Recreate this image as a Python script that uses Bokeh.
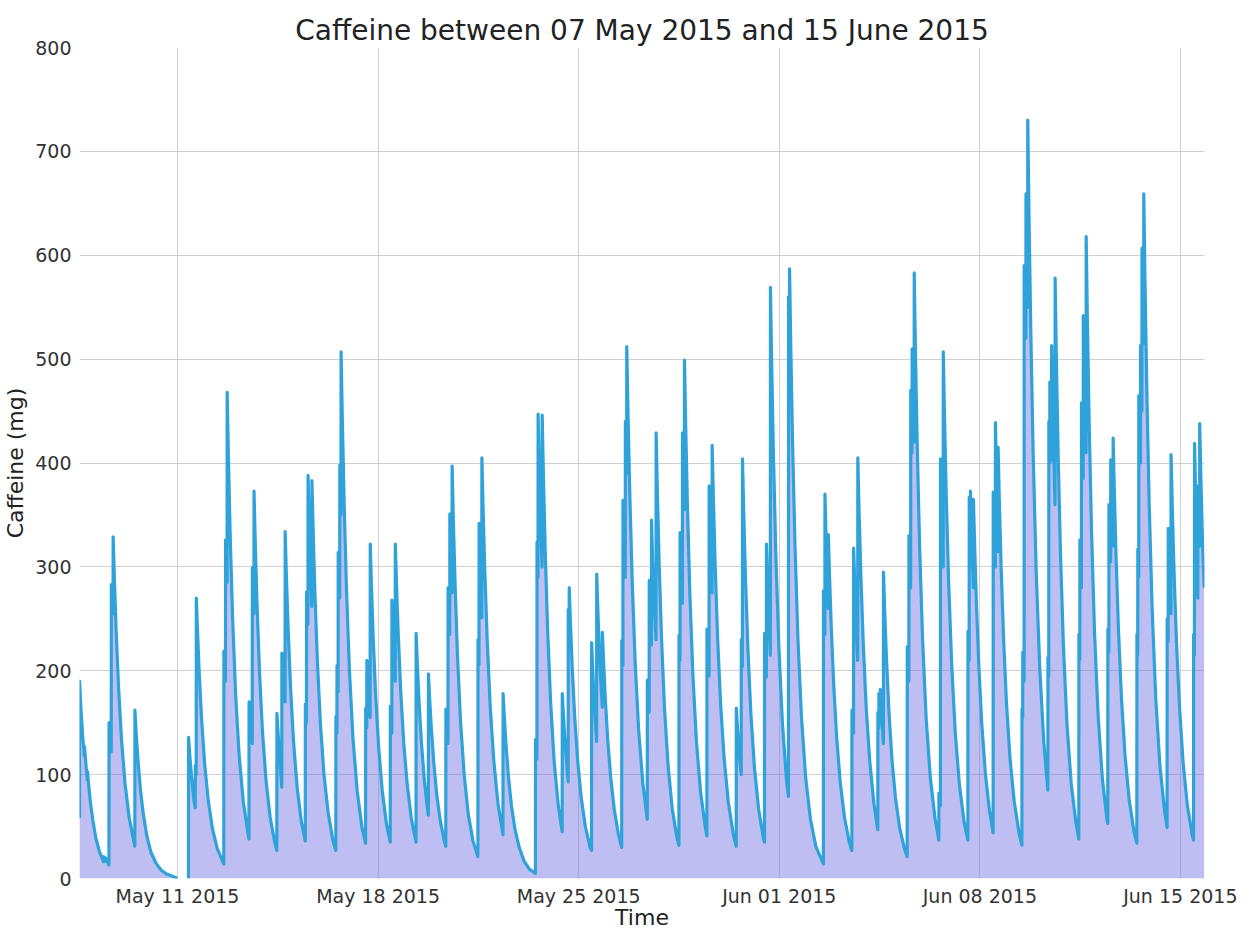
import numpy as np
import pandas as pd
from bokeh.plotting import figure
from bokeh.models import FixedTicker, DatetimeTickFormatter, Range1d, Title
from bokeh.embed import file_html
from bokeh.resources import INLINE

nan = float("nan")

# ---------------- data ----------------
# time stamps in 2015 ("MM-DD HH:MM") and the caffeine level (mg); NaN = no data
times = [
    "05-07 13:55", "05-07 14:00", "05-07 15:00", "05-07 16:30", "05-07 18:00", "05-07 18:05", "05-07 19:30", "05-07 20:30", "05-07 20:35", "05-07 21:35", "05-07 23:05", "05-08 01:05", "05-08 03:35", "05-08 06:35", "05-08 10:00", "05-08 10:05", "05-08 11:30", "05-08 11:35", "05-08 14:35",
    "05-08 14:40", "05-08 16:30", "05-08 16:35", "05-08 18:00", "05-08 18:05", "05-08 19:05", "05-08 20:35", "05-08 22:35", "05-09 01:05", "05-09 04:05", "05-09 07:35", "05-09 11:35", "05-09 12:15",
    "05-09 12:20", "05-09 13:20", "05-09 14:50", "05-09 16:50", "05-09 19:20", "05-09 22:20", "05-10 01:50", "05-10 05:50", "05-10 10:20", "05-10 15:20", "05-10 20:20", "05-11 00:00", "05-11 04:00",
    "05-11 09:10", "05-11 09:15", "05-11 10:15", "05-11 11:45", "05-11 13:45", "05-11 14:50", "05-11 14:55", "05-11 15:40", "05-11 15:45", "05-11 16:45", "05-11 18:15", "05-11 20:15", "05-11 22:45", "05-12 01:45", "05-12 05:15", "05-12 09:15", "05-12 14:45",
    "05-12 14:50", "05-12 16:10", "05-12 16:15", "05-12 17:30", "05-12 17:35", "05-12 18:35", "05-12 20:05", "05-12 22:05", "05-13 00:35", "05-13 03:35", "05-13 07:05", "05-13 11:05", "05-13 11:50",
    "05-13 11:55", "05-13 14:35", "05-13 14:40", "05-13 16:00", "05-13 16:05", "05-13 17:05", "05-13 18:35", "05-13 20:35", "05-13 23:05", "05-14 02:05", "05-14 05:35", "05-14 09:35", "05-14 11:10",
    "05-14 11:15", "05-14 12:45", "05-14 15:20", "05-14 15:25", "05-14 18:05", "05-14 18:10", "05-14 19:10", "05-14 20:40", "05-14 22:40", "05-15 01:10", "05-15 04:10", "05-15 07:40", "05-15 11:00",
    "05-15 11:05", "05-15 12:00", "05-15 12:05", "05-15 13:15", "05-15 13:20", "05-15 14:50", "05-15 16:30", "05-15 16:35", "05-15 17:35", "05-15 19:05", "05-15 21:05", "05-15 23:35", "05-16 02:35", "05-16 06:05", "05-16 10:05", "05-16 12:35",
    "05-16 12:40", "05-16 13:30", "05-16 13:35", "05-16 14:30", "05-16 14:35", "05-16 15:50", "05-16 15:55", "05-16 16:55", "05-16 17:00", "05-16 18:00", "05-16 19:30", "05-16 21:30", "05-17 00:00", "05-17 03:00", "05-17 06:30", "05-17 10:30", "05-17 13:30",
    "05-17 13:35", "05-17 14:30", "05-17 14:35", "05-17 16:00", "05-17 17:20", "05-17 17:25", "05-17 18:25", "05-17 19:55", "05-17 21:55", "05-18 00:25", "05-18 03:25", "05-18 06:55", "05-18 10:10",
    "05-18 10:15", "05-18 11:30", "05-18 11:35", "05-18 13:00", "05-18 14:20", "05-18 14:25", "05-18 15:25", "05-18 16:55", "05-18 18:55", "05-18 21:25", "05-19 00:25", "05-19 03:55", "05-19 07:45",
    "05-19 07:50", "05-19 08:50", "05-19 10:20", "05-19 12:20", "05-19 14:50", "05-19 17:50", "05-19 18:05",
    "05-19 18:10", "05-19 19:10", "05-19 20:40", "05-19 22:40", "05-20 01:10", "05-20 04:10", "05-20 07:40", "05-20 08:40",
    "05-20 08:45", "05-20 10:30", "05-20 10:35", "05-20 12:00", "05-20 12:05", "05-20 13:55", "05-20 14:00", "05-20 15:00", "05-20 16:30", "05-20 18:30", "05-20 21:00", "05-21 00:00", "05-21 03:30", "05-21 07:30", "05-21 11:35",
    "05-21 11:40", "05-21 12:30", "05-21 12:35", "05-21 13:40", "05-21 14:50", "05-21 14:55", "05-21 15:55", "05-21 17:25", "05-21 19:25", "05-21 21:55", "05-22 00:55", "05-22 04:25", "05-22 08:35",
    "05-22 08:40", "05-22 09:40", "05-22 11:10", "05-22 13:10", "05-22 15:40", "05-22 18:40", "05-22 22:10", "05-23 02:10", "05-23 06:40", "05-23 11:45",
    "05-23 11:50", "05-23 13:00", "05-23 13:05", "05-23 13:55", "05-23 14:00", "05-23 15:30", "05-23 17:20", "05-23 17:25", "05-23 18:25", "05-23 19:55", "05-23 21:55", "05-24 00:25", "05-24 03:25", "05-24 06:55", "05-24 10:10",
    "05-24 10:15", "05-24 11:15", "05-24 12:45", "05-24 15:10", "05-24 15:15", "05-24 16:00", "05-24 16:05", "05-24 17:05", "05-24 18:35", "05-24 20:35", "05-24 23:05", "05-25 02:05", "05-25 05:35", "05-25 09:35", "05-25 10:45",
    "05-25 10:50", "05-25 11:50", "05-25 13:20", "05-25 15:00", "05-25 15:05", "05-25 16:05", "05-25 17:35", "05-25 19:45", "05-25 19:50", "05-25 20:50", "05-25 22:20", "05-26 00:20", "05-26 02:50", "05-26 05:50", "05-26 09:20", "05-26 12:00",
    "05-26 12:05", "05-26 13:00", "05-26 13:05", "05-26 15:00", "05-26 15:05", "05-26 16:10", "05-26 16:15", "05-26 17:15", "05-26 18:45", "05-26 20:45", "05-26 23:15", "05-27 02:15", "05-27 05:45", "05-27 09:25",
    "05-27 09:30", "05-27 11:00", "05-27 11:05", "05-27 12:55", "05-27 13:00", "05-27 14:30", "05-27 16:45", "05-27 16:50", "05-27 17:50", "05-27 19:20", "05-27 21:20", "05-27 23:50", "05-28 02:50", "05-28 06:20", "05-28 10:20", "05-28 11:55",
    "05-28 12:00", "05-28 12:50", "05-28 12:55", "05-28 14:50", "05-28 14:55", "05-28 16:30", "05-28 16:35", "05-28 17:35", "05-28 19:05", "05-28 21:05", "05-28 23:35", "05-29 02:35", "05-29 06:05", "05-29 10:05", "05-29 11:20",
    "05-29 11:25", "05-29 13:10", "05-29 13:15", "05-29 14:30", "05-29 15:40", "05-29 15:45", "05-29 16:45", "05-29 18:15", "05-29 20:15", "05-29 22:45", "05-30 01:45", "05-30 05:15", "05-30 09:15", "05-30 11:55",
    "05-30 12:00", "05-30 13:00", "05-30 14:30", "05-30 16:05", "05-30 16:10", "05-30 17:05", "05-30 17:10", "05-30 18:10", "05-30 19:40", "05-30 21:40", "05-31 00:10", "05-31 03:10", "05-31 06:40", "05-31 10:40", "05-31 11:35",
    "05-31 11:40", "05-31 13:10", "05-31 13:15", "05-31 14:45", "05-31 16:30", "05-31 16:35", "05-31 17:35", "05-31 19:05", "05-31 21:05", "05-31 23:35", "06-01 02:35", "06-01 06:05", "06-01 07:40",
    "06-01 07:45", "06-01 08:30", "06-01 08:35", "06-01 09:35", "06-01 11:05", "06-01 13:05", "06-01 15:35", "06-01 18:35", "06-01 22:05", "06-02 02:05", "06-02 06:35", "06-02 12:55",
    "06-02 13:00", "06-02 14:10", "06-02 14:15", "06-02 15:40", "06-02 17:00", "06-02 17:05", "06-02 18:05", "06-02 19:35", "06-02 21:35", "06-03 00:05", "06-03 03:05", "06-03 06:35", "06-03 10:35", "06-03 12:45",
    "06-03 12:50", "06-03 14:10", "06-03 14:15", "06-03 16:00", "06-03 17:40", "06-03 17:45", "06-03 18:45", "06-03 20:15", "06-03 22:15", "06-04 00:45", "06-04 03:45", "06-04 07:15", "06-04 10:30",
    "06-04 10:35", "06-04 11:20", "06-04 11:25", "06-04 12:30", "06-04 12:35", "06-04 13:50", "06-04 15:10", "06-04 15:15", "06-04 16:15", "06-04 17:45", "06-04 19:45", "06-04 22:15", "06-05 01:15", "06-05 04:45", "06-05 08:45", "06-05 11:05",
    "06-05 11:10", "06-05 12:30", "06-05 12:35", "06-05 14:00", "06-05 14:05", "06-05 15:10", "06-05 15:15", "06-05 16:55", "06-05 17:00", "06-05 18:00", "06-05 19:30", "06-05 21:30", "06-06 00:00", "06-06 03:00", "06-06 06:30", "06-06 10:30", "06-06 13:35",
    "06-06 13:40", "06-06 14:55", "06-06 15:00", "06-06 16:00", "06-06 17:15", "06-06 17:20", "06-06 18:20", "06-06 19:50", "06-06 21:50", "06-07 00:20", "06-07 03:20", "06-07 06:50", "06-07 10:50", "06-07 13:55",
    "06-07 14:00", "06-07 15:00", "06-07 15:05", "06-07 16:00", "06-07 16:05", "06-07 17:20", "06-07 18:30", "06-07 18:35", "06-07 19:35", "06-07 21:05", "06-07 23:05", "06-08 01:35", "06-08 04:35", "06-08 08:05", "06-08 11:05",
    "06-08 11:10", "06-08 12:55", "06-08 13:00", "06-08 14:00", "06-08 15:10", "06-08 15:15", "06-08 16:15", "06-08 17:45", "06-08 19:45", "06-08 22:15", "06-09 01:15", "06-09 04:45", "06-09 08:45", "06-09 11:10",
    "06-09 11:15", "06-09 11:50", "06-09 11:55", "06-09 13:00", "06-09 13:05", "06-09 14:30", "06-09 14:35", "06-09 16:00", "06-09 16:05", "06-09 17:05", "06-09 18:35", "06-09 20:35", "06-09 23:05", "06-10 02:05", "06-10 05:35", "06-10 08:55",
    "06-10 09:00", "06-10 09:40", "06-10 09:45", "06-10 10:30", "06-10 10:35", "06-10 12:00", "06-10 12:05", "06-10 13:30", "06-10 14:55", "06-10 15:00", "06-10 16:00", "06-10 17:30", "06-10 19:30", "06-10 22:00", "06-11 01:00", "06-11 04:30", "06-11 08:30", "06-11 10:50",
    "06-11 10:55", "06-11 11:40", "06-11 11:45", "06-11 13:00", "06-11 13:05", "06-11 14:30", "06-11 14:35", "06-11 15:45", "06-11 16:55", "06-11 17:00", "06-11 18:00", "06-11 19:30", "06-11 21:30", "06-12 00:00", "06-12 03:00", "06-12 06:30", "06-12 10:30", "06-12 11:05",
    "06-12 11:10", "06-12 12:00", "06-12 12:05", "06-12 13:30", "06-12 13:35", "06-12 15:30", "06-12 15:35", "06-12 16:35", "06-12 18:05", "06-12 20:05", "06-12 22:35", "06-13 01:35", "06-13 05:05", "06-13 09:05", "06-13 11:25",
    "06-13 11:30", "06-13 12:10", "06-13 12:15", "06-13 13:00", "06-13 13:05", "06-13 14:30", "06-13 14:35", "06-13 15:40", "06-13 15:45", "06-13 17:10", "06-13 17:15", "06-13 18:15", "06-13 19:45", "06-13 21:45", "06-14 00:15", "06-14 03:15", "06-14 06:45", "06-14 10:45", "06-14 12:45",
    "06-14 12:50", "06-14 13:40", "06-14 13:45", "06-14 16:00", "06-14 16:05", "06-14 17:05", "06-14 18:35", "06-14 20:35", "06-14 23:05", "06-15 02:05", "06-15 05:35", "06-15 09:35", "06-15 10:55",
    "06-15 11:00", "06-15 11:40", "06-15 11:45", "06-15 13:00", "06-15 14:30", "06-15 14:35", "06-15 16:00", "06-15 16:05", "06-15 17:05", "06-15 18:35", "06-15 19:50",
]

caffeine_mg = [
    58, 190, 166, 138, 118, 127, 107, 95, 103, 90, 73, 56, 39, 26, 16, 21, 17, 20, 13,
    150, 122, 283, 255, 329, 290, 239, 185, 134, 91, 58, 35, 31,
    162, 141, 115, 87, 62, 41, 25, 15, 8, 4, 2, 0, nan,
    0, 136, 119, 98, 75, 68, 109, 100, 270, 238, 196, 152, 110, 75, 48, 29, 14,
    219, 190, 326, 285, 468, 408, 332, 253, 179, 119, 74, 43, 38,
    170, 130, 299, 255, 373, 325, 265, 201, 143, 95, 59, 34, 27,
    159, 130, 88, 217, 170, 334, 292, 240, 184, 132, 88, 55, 36,
    168, 150, 276, 245, 388, 318, 262, 383, 335, 275, 211, 151, 101, 64, 37, 27,
    156, 140, 205, 180, 314, 270, 398, 350, 507, 444, 364, 279, 200, 134, 84, 49, 34,
    164, 145, 210, 175, 155, 322, 282, 231, 177, 127, 85, 53, 35,
    166, 140, 268, 222, 190, 322, 283, 234, 181, 131, 90, 57, 35,
    236, 207, 169, 130, 93, 62, 61,
    197, 173, 143, 111, 80, 55, 35, 31,
    163, 130, 280, 235, 351, 275, 397, 346, 282, 214, 152, 101, 62, 36, 21,
    230, 206, 342, 297, 251, 405, 356, 294, 228, 165, 113, 72, 42,
    178, 156, 128, 98, 70, 47, 30, 17, 9, 5,
    134, 115, 324, 290, 447, 368, 300, 446, 389, 317, 241, 171, 113, 70, 45,
    178, 156, 128, 93, 259, 235, 280, 246, 203, 157, 114, 78, 50, 30, 27,
    227, 199, 163, 132, 293, 257, 210, 165, 237, 209, 172, 133, 97, 66, 42, 30,
    229, 205, 364, 290, 440, 390, 512, 451, 372, 288, 209, 142, 91, 57,
    191, 160, 287, 225, 345, 280, 230, 429, 374, 305, 232, 164, 109, 67, 39, 32,
    234, 210, 333, 265, 429, 355, 499, 437, 358, 274, 197, 132, 83, 49, 41,
    240, 195, 378, 320, 275, 417, 367, 303, 234, 170, 116, 74, 44, 31,
    164, 144, 119, 100, 230, 204, 404, 354, 290, 222, 159, 107, 67, 39, 35,
    236, 194, 322, 264, 215, 569, 498, 408, 313, 224, 150, 94, 79,
    560, 515, 587, 514, 421, 323, 231, 155, 97, 57, 31, 14,
    277, 235, 370, 305, 260, 331, 291, 240, 186, 135, 92, 59, 35, 27,
    162, 140, 318, 253, 210, 405, 356, 294, 228, 165, 113, 72, 47,
    160, 145, 178, 155, 182, 154, 130, 295, 258, 212, 162, 116, 78, 49, 29, 21,
    223, 190, 330, 280, 470, 410, 510, 420, 583, 510, 418, 320, 230, 154, 97, 57, 37,
    82, 70, 404, 355, 300, 507, 446, 368, 285, 207, 141, 90, 54, 37,
    238, 210, 367, 330, 373, 316, 280, 365, 321, 265, 205, 149, 101, 65, 44,
    372, 300, 439, 385, 315, 415, 365, 301, 233, 169, 115, 74, 44, 32,
    163, 155, 218, 190, 590, 520, 659, 550, 730, 642, 530, 410, 298, 203, 130, 85,
    213, 195, 440, 400, 478, 403, 513, 425, 360, 578, 504, 410, 312, 222, 147, 91, 53, 38,
    235, 211, 326, 280, 458, 385, 542, 465, 410, 618, 539, 439, 334, 237, 157, 97, 56, 53,
    240, 218, 360, 305, 403, 320, 424, 373, 308, 238, 173, 118, 75, 45, 34,
    235, 215, 317, 290, 465, 400, 513, 450, 607, 515, 659, 577, 473, 362, 260, 174, 109, 64, 49,
    250, 228, 337, 255, 408, 359, 296, 229, 167, 113, 72, 43, 37,
    235, 215, 419, 355, 270, 378, 320, 438, 385, 318, 280,
]

x_tick_dates = ["2015-05-11", "2015-05-18", "2015-05-25", "2015-06-01", "2015-06-08", "2015-06-15"]
y_ticks = [0, 100, 200, 300, 400, 500, 600, 700, 800]
title_text = "Caffeine between 07 May 2015 and 15 June 2015"
x_axis_title = "Time"
y_axis_title = "Caffeine (mg)"

assert len(times) == len(caffeine_mg), (len(times), len(caffeine_mg))

# ---------------- build ----------------
t = pd.to_datetime(["2015-" + s for s in times])
y = np.array(caffeine_mg, dtype=float)

FONT = "DejaVu Sans"
LINE_COLOR = "#30a2da"
FILL_COLOR = "#6f6fe2"

x_start = t[0]
x_end = pd.Timestamp("2015-06-15 20:06")

p = figure(
    x_axis_type="datetime",
    frame_width=1125, frame_height=831,
    min_border_left=72, min_border_right=33, min_border_top=39, min_border_bottom=49,
    x_range=Range1d(x_start, x_end), y_range=Range1d(0, 800),
    output_backend="svg", toolbar_location=None,
    title=" ",
)

# filled area under the curve, split where data is missing
breaks = np.where(np.isnan(y))[0]
starts = [0] + list(breaks + 1)
ends = list(breaks) + [len(y)]
for a, b in zip(starts, ends):
    if b - a > 1:
        p.varea(x=t[a:b], y1=np.zeros(b - a), y2=y[a:b],
                fill_color=FILL_COLOR, fill_alpha=0.45)

p.line(x=t, y=y, line_color=LINE_COLOR, line_width=3.2, line_join="round")

# ticks / grid
x_ticks_ms = [pd.Timestamp(d).value / 1e6 for d in x_tick_dates]
p.xaxis.ticker = FixedTicker(ticks=x_ticks_ms)
p.xgrid.ticker = FixedTicker(ticks=x_ticks_ms)
p.yaxis.ticker = FixedTicker(ticks=y_ticks)
p.ygrid.ticker = FixedTicker(ticks=y_ticks[1:-1])
fmt = "%b %d %Y"
p.xaxis.formatter = DatetimeTickFormatter(
    milliseconds=fmt, seconds=fmt, minsec=fmt, minutes=fmt, hourmin=fmt,
    hours=fmt, days=fmt, months=fmt, years=fmt)

p.grid.grid_line_color = "#d0d0d0"
p.grid.grid_line_width = 1

for ax in p.axis:
    ax.axis_line_color = None
    ax.major_tick_line_color = None
    ax.minor_tick_line_color = None
    ax.major_tick_out = 0
    ax.major_tick_in = 0
    ax.major_label_text_font = FONT
    ax.major_label_text_font_size = "19px"
    ax.major_label_text_color = "#333333"
    ax.axis_label_text_font = FONT
    ax.axis_label_text_font_size = "22px"
    ax.axis_label_text_font_style = "normal"
    ax.axis_label_text_color = "#222222"

p.xaxis.axis_label = x_axis_title
p.yaxis.axis_label = y_axis_title
p.xaxis.major_label_standoff = 6
p.xaxis.axis_label_standoff = -5
p.yaxis.major_label_standoff = 8
p.yaxis.axis_label_standoff = 4

# outermost (figure) title is a small blank spacer; the real title sits below it
p.title.text_font = FONT
p.title.text_font_size = "6px"
p.title.standoff = 1

p.add_layout(Title(text=title_text, text_font=FONT, text_font_size="28px",
                   text_font_style="normal", text_color="#222222",
                   align="center", standoff=2), "above")

p.outline_line_color = None
p.background_fill_color = "white"
p.border_fill_color = "white"

open("out.html", "w").write(file_html(p, INLINE))
